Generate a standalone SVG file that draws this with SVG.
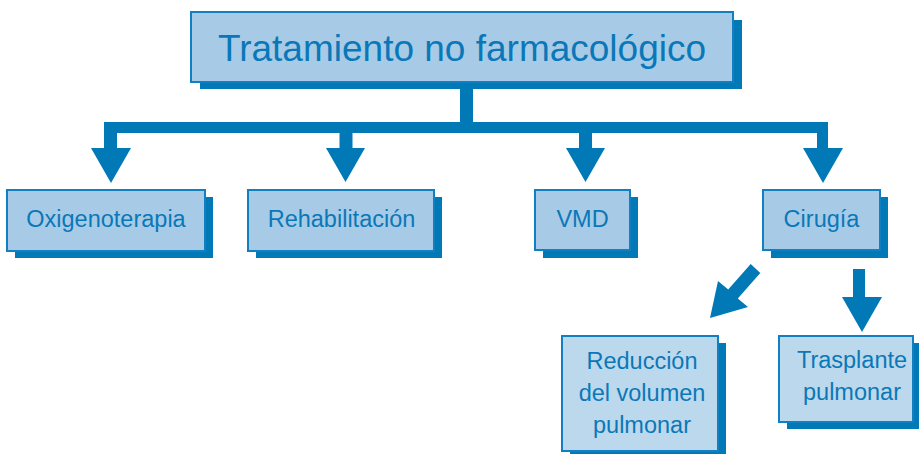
<svg xmlns="http://www.w3.org/2000/svg" width="919" height="454" viewBox="0 0 919 454">
<style>
.shadow{fill:#0079b6}
.box{fill:#a7cbe6;stroke:#1180c2;stroke-width:2}
.box2{fill:#bcd8ec;stroke:#1180c2;stroke-width:2}
.t{font-family:"Liberation Sans",Arial,sans-serif;fill:#0a78b8;text-anchor:middle;font-size:23.5px}
.conn{fill:#0079b6}
</style>
<rect width="919" height="454" fill="#ffffff"/>
<g id="connectors" class="conn">
<rect x="460" y="88" width="13" height="36"/>
<path d="M104,122 H828 V149 H817 V133 H117 V149 H104 Z"/>
<rect x="339.5" y="132" width="13" height="17"/>
<rect x="579" y="132" width="13" height="17"/>
<polygon points="91,148 131,148 111,183"/>
<polygon points="326,148 365,148 345.5,182"/>
<polygon points="566,148 605,148 585.5,182"/>
<polygon points="803,148 843,148 823,183"/>
<rect x="853" y="269" width="12" height="29"/>
<polygon points="842,297 882,297 862,332"/>
<polygon points="750.7,264.1 760.3,272.9 737.8,298.4 748,307 710,318 718,281 728.2,289.6"/>
</g>
<g id="n-root">
<rect class="shadow" x="200" y="20" width="542" height="69"/>
<rect class="box" x="191" y="12" width="542" height="70"/>
<text class="t" x="462" y="61" style="font-size:37px">Tratamiento no farmacológico</text>
</g>
<g id="n-oxigeno">
<rect class="shadow" x="15" y="197" width="198" height="61"/>
<rect class="box" x="7" y="190" width="198" height="61"/>
<text class="t" x="106" y="227">Oxigenoterapia</text>
</g>
<g id="n-rehab">
<rect class="shadow" x="256" y="197" width="186" height="61"/>
<rect class="box" x="248" y="190" width="186" height="61"/>
<text class="t" x="341.5" y="227">Rehabilitación</text>
</g>
<g id="n-vmd">
<rect class="shadow" x="543" y="197" width="95" height="61"/>
<rect class="box" x="535" y="190" width="95" height="60"/>
<text class="t" x="582.5" y="227">VMD</text>
</g>
<g id="n-cirugia">
<rect class="shadow" x="771" y="197" width="117" height="61"/>
<rect class="box" x="763" y="190" width="117" height="60"/>
<text class="t" x="821.5" y="227">Cirugía</text>
</g>
<g id="n-reduccion">
<rect class="shadow" x="570" y="343" width="156" height="116"/>
<rect class="box2" x="562" y="336" width="156" height="115"/>
<text class="t" x="642" y="369">Reducción</text>
<text class="t" x="642" y="401">del volumen</text>
<text class="t" x="642" y="433">pulmonar</text>
</g>
<g id="n-trasplante">
<rect class="shadow" x="787" y="343" width="134" height="86"/>
<rect class="box2" x="779" y="336" width="134" height="86"/>
<text class="t" x="852" y="368">Trasplante</text>
<text class="t" x="852" y="400">pulmonar</text>
</g>
</svg>
